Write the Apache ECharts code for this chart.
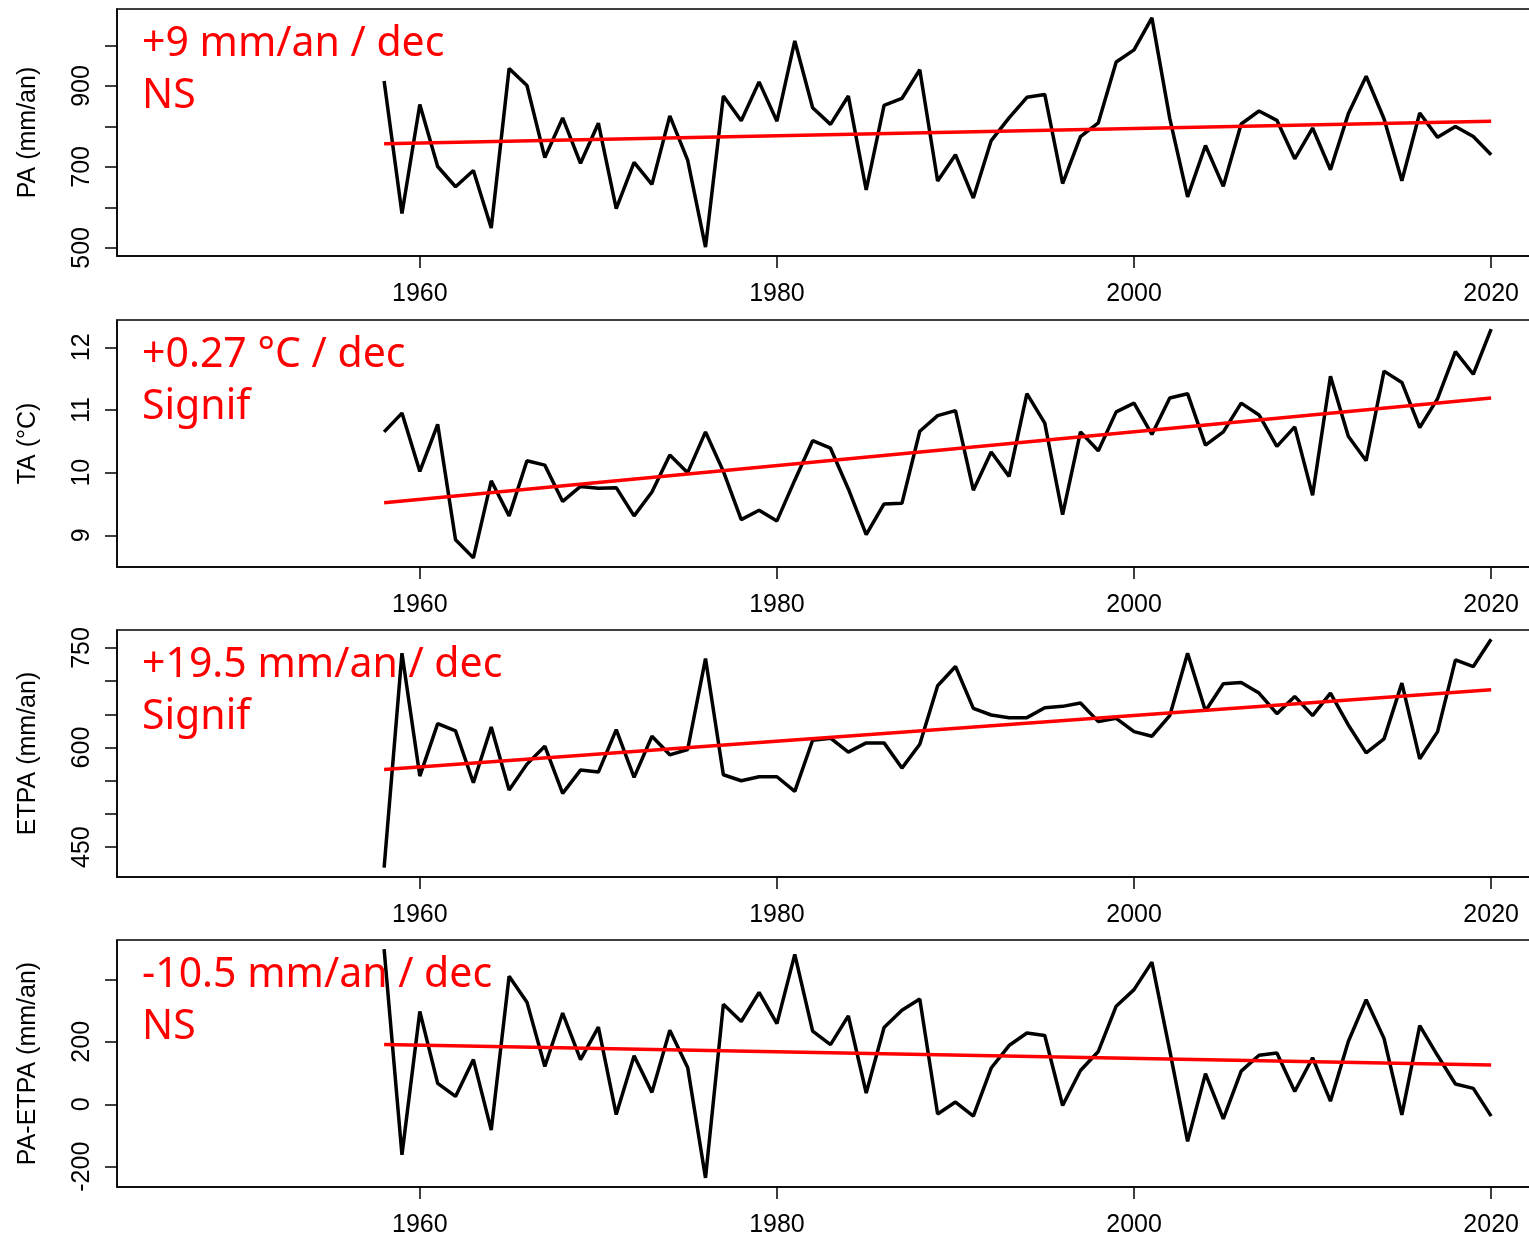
<!DOCTYPE html>
<html>
<head>
<meta charset="utf-8">
<title>PA / TA / ETPA / PA-ETPA</title>
<script src="https://cdn.jsdelivr.net/npm/echarts@6/dist/echarts.min.js"></script>
<style>
  html, body { margin: 0; padding: 0; background: #fff; }
  #main { width: 1529px; height: 1238px; }
</style>
</head>
<body>
<div id="main"></div>
<script>
// Séries annuelles 1958-2020
const years = [];
for (let y = 1958; y <= 2020; y++) years.push(y);

const pa = [912, 585,
  854, 701, 651, 691, 549, 943, 901, 723, 821, 709,
  808, 597, 711, 657, 826, 717, 502, 875, 814, 910,
  813, 1011, 846, 805, 875, 643, 852, 869, 940, 665,
  730, 623, 765, 821, 872, 879, 659, 775, 809, 959,
  989, 1068, 820, 626, 753, 652, 806, 838, 815, 720,
  796, 693, 831, 924, 819, 666, 833, 773, 800, 775, 730];

const ta = [10.65, 10.95,
  10.02, 10.77, 8.93, 8.64, 9.87, 9.31, 10.19, 10.12, 9.54, 9.78,
  9.75, 9.76, 9.31, 9.69, 10.28, 10.00, 10.65, 10.02, 9.25, 9.40,
  9.23, 9.88, 10.51, 10.39, 9.74, 9.01, 9.50, 9.51, 10.66, 10.91,
  10.99, 9.72, 10.33, 9.94, 11.26, 10.79, 9.33, 10.65, 10.35, 10.97,
  11.11, 10.61, 11.19, 11.26, 10.44, 10.65, 11.11, 10.92, 10.42, 10.73,
  9.64, 11.54, 10.58, 10.19, 11.62, 11.44, 10.72, 11.18, 11.93, 11.57, 12.29];

const etpa = [419, 742,
  557, 636, 625, 547, 631, 536, 575, 602, 531, 566,
  563, 627, 555, 617, 589, 597, 734, 559, 550, 556,
  556, 534, 611, 614, 593, 607, 607, 569, 605, 693,
  722, 659, 649, 645, 645, 660, 662, 667, 639, 644,
  624, 617, 648, 742, 655, 696, 698, 682, 651, 677,
  648, 682, 634, 592, 613, 697, 583, 624, 732, 722, 763];

const paEtpa = [497, -162,
  297, 67, 25, 143, -83, 410, 327, 121, 292, 143,
  247, -33, 155, 38, 237, 118, -236, 320, 265, 358,
  258, 480, 234, 191, 283, 36, 246, 301, 337, -31,
  7, -38, 116, 188, 228, 220, -4, 108, 169, 314,
  367, 455, 172, -119, 98, -47, 106, 157, 164, 41,
  149, 10, 201, 335, 211, -34, 252, 156, 65, 51, -38];

// Droites de tendance (valeurs en 1958 et 2020)
const trendYears = [1958, 2020];
const trendPa = [757, 813];
const trendTa = [9.52, 11.19];
const trendEtpa = [567, 687];
const trendPaEtpa = [191, 126];

// Graduations
const xTicks = [1960, 1980, 2000, 2020];
const paTicks = [500, 600, 700, 800, 900, 1000];
const paLabels = [500, 700, 900];
const taTicks = [9, 10, 11, 12];
const etpaTicks = [450, 500, 550, 600, 650, 700, 750];
const etpaLabels = [450, 600, 750];
const diffTicks = [-200, 0, 200, 400];
const diffLabels = [-200, 0, 200];

// Titres et annotations
const yNames = ['PA (mm/an)', 'TA (°C)', 'ETPA (mm/an)', 'PA-ETPA (mm/an)'];
const trendTexts = ['+9 mm/an / dec', '+0.27 °C / dec', '+19.5 mm/an / dec', '-10.5 mm/an / dec'];
const signifTexts = ['NS', 'Signif', 'Signif', 'NS'];

(function () {
  'use strict';

  const chart = echarts.init(document.getElementById('main'));

  const panels = [
    { values: pa, trend: trendPa, min: 480, max: 1090, ticks: paTicks, labels: paLabels },
    { values: ta, trend: trendTa, min: 8.494, max: 12.436, ticks: taTicks, labels: taTicks },
    { values: etpa, trend: trendEtpa, min: 405, max: 777, ticks: etpaTicks, labels: etpaLabels },
    { values: paEtpa, trend: trendPaEtpa, min: -265, max: 526, ticks: diffTicks, labels: diffLabels }
  ];

  const tops = [9, 320, 630, 940];
  const axisFont = { fontFamily: 'Liberation Sans, Arial, sans-serif', fontSize: 25, color: '#000' };

  const grids = [], xAxes = [], yAxes = [], series = [], graphics = [];

  panels.forEach(function (p, i) {
    // la bordure droite du cadre tombe hors de l'image, comme sur l'original
    grids.push({
      left: 117, top: tops[i], width: 1427, height: 247,
      outerBoundsMode: 'none',
      show: true, borderColor: '#000', borderWidth: 1.5, backgroundColor: '#fff'
    });

    xAxes.push({
      type: 'value', gridIndex: i, min: 1943.04, max: 2022.96,
      splitLine: { show: false },
      axisLine: { show: true, onZero: false, lineStyle: { color: '#000', width: 1.5 } },
      axisTick: { show: true, length: 12, customValues: xTicks, lineStyle: { color: '#000', width: 1.5 } },
      axisLabel: Object.assign({
        customValues: xTicks, margin: 26,
        formatter: function (v) { return String(v); }
      }, axisFont)
    });

    yAxes.push({
      type: 'value', gridIndex: i, min: p.min, max: p.max,
      name: yNames[i], nameLocation: 'middle', nameGap: 76,
      nameTextStyle: axisFont,
      splitLine: { show: false },
      axisLine: { show: true, onZero: false, lineStyle: { color: '#000', width: 1.5 } },
      axisTick: { show: true, length: 12, customValues: p.ticks, lineStyle: { color: '#000', width: 1.5 } },
      axisLabel: Object.assign({
        customValues: p.labels, rotate: 90, margin: 22,
        formatter: function (v) { return String(v); }
      }, axisFont)
    });

    series.push({
      type: 'line', xAxisIndex: i, yAxisIndex: i,
      data: years.map(function (y, k) { return [y, p.values[k]]; }),
      symbol: 'none', lineStyle: { color: '#000', width: 3.5 }, z: 2
    });

    series.push({
      type: 'line', xAxisIndex: i, yAxisIndex: i,
      data: trendYears.map(function (y, k) { return [y, p.trend[k]]; }),
      symbol: 'none', lineStyle: { color: '#ff0000', width: 3.5 }, z: 3
    });

    // annotations rouges en haut à gauche
    graphics.push({
      type: 'text', x: 142, y: tops[i] + 35, z: 10,
      style: { text: trendTexts[i], fill: '#ff0000', fontSize: 41, fontFamily: 'Noto Sans', verticalAlign: 'middle' }
    });
    graphics.push({
      type: 'text', x: 142, y: tops[i] + 87, z: 10,
      style: { text: signifTexts[i], fill: '#ff0000', fontSize: 41, fontFamily: 'Noto Sans', verticalAlign: 'middle' }
    });
  });

  chart.setOption({
    animation: false,
    backgroundColor: '#fff',
    grid: grids,
    xAxis: xAxes,
    yAxis: yAxes,
    series: series,
    graphic: graphics
  });
})();
</script>
</body>
</html>
